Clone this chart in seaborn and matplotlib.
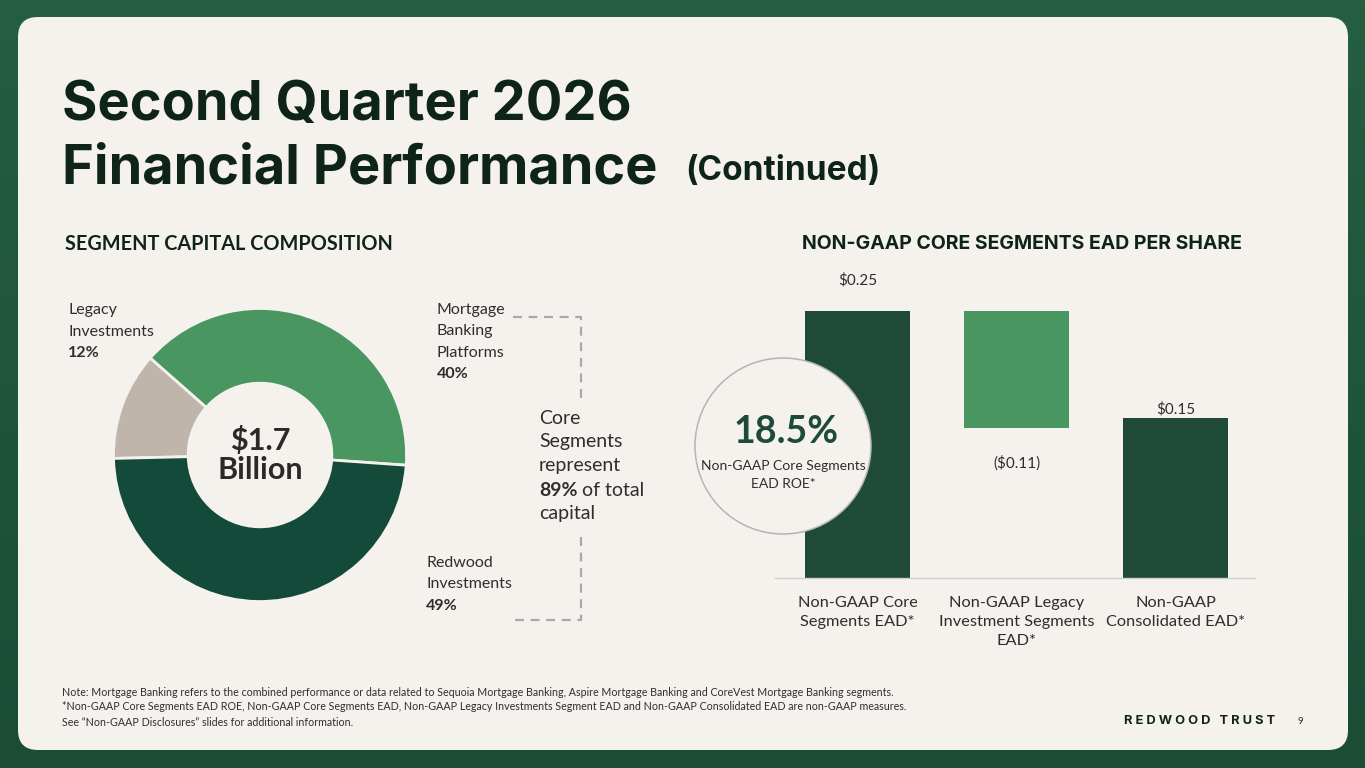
import matplotlib
matplotlib.use("Agg")
import matplotlib.pyplot as plt
from matplotlib.patches import FancyBboxPatch, Circle
import numpy as np
import pandas as pd
import seaborn as sns

# --- data ---
segments = ["Mortgage Banking Platforms", "Legacy Investments", "Redwood Investments"]
segment_share = [40, 12, 49]
segment_colors = ["#4a9660", "#c0b5ab", "#134a3a"]
total_capital = "$1.7\nBillion"

ead_labels = ["Non-GAAP Core\nSegments EAD*",
              "Non-GAAP Legacy\nInvestment Segments\nEAD*",
              "Non-GAAP\nConsolidated EAD*"]
ead_values = [0.25, -0.11, 0.15]
ead_text = ["$0.25", "($0.11)", "$0.15"]
roe_value = "18.5%"

footnotes = [
    "Note: Mortgage Banking refers to the combined performance or data related to Sequoia Mortgage Banking, Aspire Mortgage Banking and CoreVest Mortgage Banking segments.",
    "*Non-GAAP Core Segments EAD ROE, Non-GAAP Core Segments EAD, Non-GAAP Legacy Investments Segment EAD and Non-GAAP Consolidated EAD are non-GAAP measures.",
    "See \u201cNon-GAAP Disclosures\u201d slides for additional information.",
]

CARD = "#f5f2ee"
DARK = "#1f4a3a"
INK = "#0f2419"
TXT = "#2e2e2e"
BODY = ["Lato", "DejaVu Sans"]
HEAD = ["Inter", "DejaVu Sans"]

sns.set_theme(style="white")
plt.rcParams["font.family"] = BODY

W, H = 1365, 768
fig = plt.figure(figsize=(W / 100, H / 100), dpi=100)

# background in pixel coordinates
bg = fig.add_axes([0, 0, 1, 1])
bg.set_xlim(0, W)
bg.set_ylim(H, 0)
bg.axis("off")
grad = np.linspace(0, 1, 256).reshape(-1, 1)
bg.imshow(grad, extent=[0, W, H, 0], aspect="auto",
          cmap=matplotlib.colors.LinearSegmentedColormap.from_list("g", ["#245e43", "#1a4c36"]))
bg.add_patch(FancyBboxPatch((18, 17), 1330, 733, boxstyle="round,pad=0,rounding_size=20",
                            fc=CARD, ec="none"))

# title
bg.text(62, 120, "Second Quarter 2026", fontsize=39, fontweight="bold", color=INK,
        family=HEAD, va="baseline")
bg.text(62, 183, "Financial Performance", fontsize=39, fontweight="bold", color=INK,
        family=HEAD, va="baseline")
bg.text(685, 180, "(Continued)", fontsize=24, fontweight="bold", color=INK,
        family=HEAD, va="baseline")

bg.text(65, 244, "SEGMENT CAPITAL COMPOSITION", fontsize=14.3, fontweight="bold",
        color=INK, va="center")
bg.text(802, 244, "NON-GAAP CORE SEGMENTS EAD PER SHARE", fontsize=14, fontweight="bold",
        color=INK, family=HEAD, va="center")

# donut labels
def block(x, y, lines, size=11.5, step=21.5, bold_last=True):
    for i, s in enumerate(lines):
        bg.text(x, y + i * step, s, fontsize=size, color=TXT, va="center",
                fontweight="bold" if (bold_last and i == len(lines) - 1) else "normal")

block(68, 310, ["Legacy", "Investments", f"{segment_share[1]}%"])
block(437, 310, ["Mortgage", "Banking", "Platforms", f"{segment_share[0]}%"])
block(426, 563, ["Redwood", "Investments", f"{segment_share[2]}%"])

core_share = segment_share[0] + segment_share[2]
for i, s in enumerate(["Core", "Segments", "represent"]):
    bg.text(539, 418 + i * 24, s, fontsize=14, color=TXT, va="center")
bg.text(539, 490, f"{core_share}%", fontsize=14, color=TXT, va="center", fontweight="bold")
bg.text(582, 490, "of total", fontsize=14, color=TXT, va="center")
bg.text(539, 514, "capital", fontsize=14, color=TXT, va="center")

dash = dict(color="#a9a9a9", lw=1.6, ls=(0, (4, 3)))
bg.plot([513, 581, 581], [317, 317, 400], **dash)
bg.plot([581, 581, 513], [537, 620, 620], **dash)

# footer
for i, s in enumerate(footnotes):
    bg.text(62, 692 + i * 15, s, fontsize=7.7, color=TXT, va="center")
bg.text(1124, 721, "R E D W O O D   T R U S T", fontsize=9.3, fontweight="bold",
        color=INK, va="center", family=HEAD)
bg.text(1298, 721, "9", fontsize=7, color=TXT, va="center")

# donut
dax = fig.add_axes([112 / W, (H - 603) / H, 296 / W, 296 / H])
dax.pie(segment_share, colors=segment_colors, startangle=-4, counterclock=True,
        radius=1, wedgeprops=dict(width=0.51, edgecolor=CARD, linewidth=2))
dax.set_xlim(-1.01, 1.01)
dax.set_ylim(-1.01, 1.01)
dax.text(0, 0, total_capital, ha="center", va="center", fontsize=22, fontweight="bold",
         color="#2a2a2a", linespacing=1.05)

# waterfall bars
core, legacy, consolidated = ead_values
bar_top = [core, core, consolidated]
bar_bottom = [0, core + legacy, 0]
df = pd.DataFrame({"label": ead_labels, "top": bar_top})

bax = fig.add_axes([775 / W, (H - 578) / H, 480 / W, 0.28 * 1068 / H])
bax.patch.set_alpha(0)
sns.barplot(data=df, x="label", y="top", hue="label", palette=[DARK, "#4a9660", DARK],
            width=0.66, legend=False, ax=bax, saturation=1)
for p, b, t in zip(bax.patches, bar_bottom, bar_top):
    p.set_y(b)
    p.set_height(t - b)
    p.set_edgecolor("none")
bax.set_xlim(-0.52, 2.5)
bax.set_ylim(0, 0.28)
bax.set_xlabel("")
bax.set_ylabel("")
bax.set_yticks([])
for s in ["top", "left", "right"]:
    bax.spines[s].set_visible(False)
bax.spines["bottom"].set_color("#cfcfcf")
bax.spines["bottom"].set_linewidth(1)
bax.set_xticks(range(len(ead_labels)))
bax.set_xticklabels(ead_labels, linespacing=1.45, fontsize=11.8, color=TXT)
bax.tick_params(axis="x", length=0, pad=13)

bax.annotate(ead_text[0], (0, core), xytext=(0, 17), textcoords="offset points",
             ha="center", va="bottom", fontsize=11, color=TXT)
bax.annotate(ead_text[1], (1, core + legacy), xytext=(0, -25), textcoords="offset points",
             ha="center", va="center", fontsize=11, color=TXT)
bax.annotate(ead_text[2], (2, consolidated), xytext=(0, 1), textcoords="offset points",
             ha="center", va="bottom", fontsize=11, color=TXT)

# ROE bubble overlapping the first bar
top = fig.add_axes([0, 0, 1, 1])
top.set_xlim(0, W)
top.set_ylim(H, 0)
top.axis("off")
top.patch.set_alpha(0)
top.add_patch(Circle((783, 446), 88, fc=CARD, ec="#b5b5b5", lw=1.1))
top.text(786, 432, roe_value, ha="center", va="center", fontsize=27, fontweight="bold",
         color="#1d4a3a")
top.text(783, 466, "Non-GAAP Core Segments", ha="center", va="center", fontsize=10, color=TXT)
top.text(783, 484, "EAD ROE*", ha="center", va="center", fontsize=10, color=TXT)

fig.savefig("out.png", dpi=100)
